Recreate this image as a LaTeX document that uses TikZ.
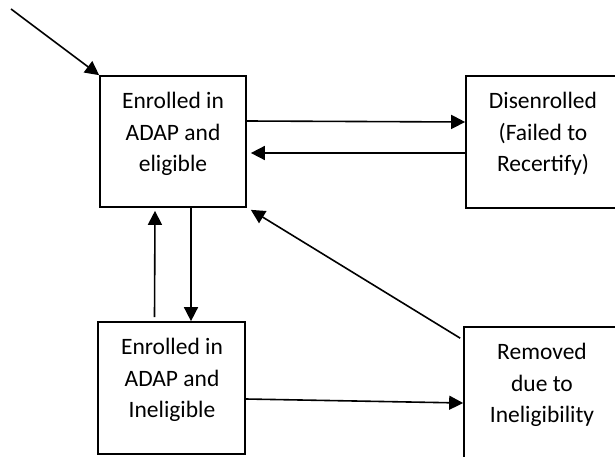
\documentclass[tikz,border=0pt]{standalone}
\usepackage{fontspec}
\setmainfont{Carlito}
\usetikzlibrary{arrows.meta}
\begin{document}
\begin{tikzpicture}[x=1pt,y=-1pt,
  box/.style={draw=black,line width=1.7pt,rectangle,inner sep=0pt},
  lbl/.style={align=center,font=\fontsize{23.5}{31.5}\selectfont,inner sep=0pt},
  conn/.style={line width=1.6pt,-{Triangle[length=14pt,width=14pt]}}]
\useasboundingbox (0,0) rectangle (615,457);
\clip (0,0) rectangle (615,457);
\node[box,minimum width=146pt,minimum height=131pt] (b1) at (173,141.5) {};
\node[box,minimum width=164pt,minimum height=132pt] (b2) at (548,142) {};
\node[box,minimum width=147pt,minimum height=132pt] (b3) at (171.5,388) {};
\node[box,minimum width=166pt,minimum height=140pt] (b4) at (547,397) {};
\node[lbl] (t1) at (173,134) {Enrolled in\\ADAP and\\eligible};
\node[lbl] (t2) at (543,134) {Disenrolled\\(Failed to\\Recertify)};
\node[lbl] (t3) at (172,380) {Enrolled in\\ADAP and\\Ineligible};
\node[lbl] (t4) at (542,385) {Removed\\due to\\Ineligibility};
\coordinate (s) at (11,9);
\draw[conn] (s) -- (b1.north west);
\draw[conn] ([yshift=20.5pt]b1.east) -- ([yshift=20pt]b2.west);
\draw[conn] ([yshift=-11pt]b2.west) -- ([yshift=-11.5pt,xshift=4pt]b1.east);
\draw[conn] ([xshift=18pt]b1.south) -- ([xshift=19.5pt]b3.north);
\draw[conn] ([xshift=-17pt,yshift=4pt]b3.north) -- ([xshift=-18pt,yshift=-3pt]b1.south);
\draw[conn] ([yshift=-11pt]b3.east) -- ([yshift=-6pt]b4.west);
\draw[conn] ([xshift=-3pt,yshift=-12pt]b4.north west) -- ([xshift=4pt,yshift=-2pt]b1.south east);
\end{tikzpicture}
\end{document}
